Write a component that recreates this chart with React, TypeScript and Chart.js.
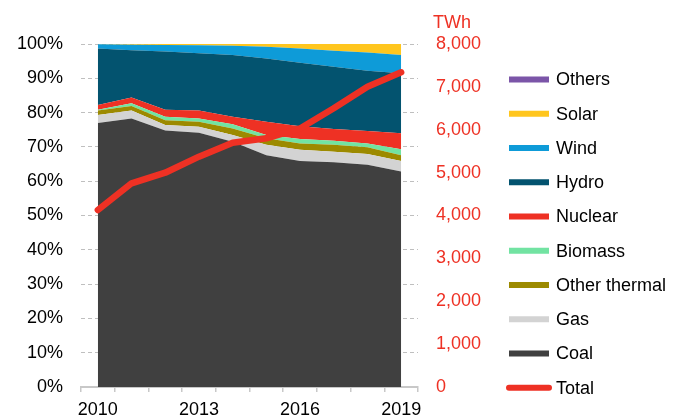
import React, { useEffect, useRef } from 'react';
import { Chart, registerables } from 'chart.js';

Chart.register(...registerables);

const years = ['2010', '2011', '2012', '2013', '2014', '2015', '2016', '2017', '2018', '2019'];
const shownYears = ['2010', '2013', '2016', '2019'];

// Shares of generation (%)
const coal = [77.0, 78.3, 74.8, 74.1, 71.5, 67.6, 65.9, 65.5, 64.8, 62.8];
const gas = [2.3, 2.3, 1.6, 1.8, 2.0, 3.0, 3.3, 3.1, 3.1, 3.1];
const otherThermal = [1.3, 1.3, 1.4, 1.4, 1.9, 1.9, 1.8, 2.0, 2.0, 1.7];
const biomass = [0.2, 0.8, 1.0, 1.0, 1.2, 1.0, 1.3, 1.2, 1.1, 1.7];
const nuclear = [1.4, 1.7, 2.0, 2.3, 2.2, 3.8, 3.7, 3.4, 3.6, 4.7];
const hydro = [16.5, 13.8, 17.0, 16.7, 18.0, 18.5, 18.5, 18.2, 17.6, 17.5];
const wind = [1.2, 1.6, 1.9, 2.3, 2.7, 3.4, 4.2, 4.6, 5.3, 5.3];
const solar = [0.1, 0.2, 0.3, 0.4, 0.5, 0.8, 1.3, 2.0, 2.5, 3.2];
const others = [0, 0, 0, 0, 0, 0, 0, 0, 0, 0];

// Total generation (TWh)
const total = [4128, 4751, 4998, 5372, 5698, 5800, 6030, 6500, 7004, 7340];

const unitLabel = 'TWh';
const RED = '#EE3124';
const FONT = '"Liberation Sans", Arial, sans-serif';

const areaSeries = [
  { label: 'Coal', data: coal, color: '#404040' },
  { label: 'Gas', data: gas, color: '#D3D3D3' },
  { label: 'Other thermal', data: otherThermal, color: '#9C8A00' },
  { label: 'Biomass', data: biomass, color: '#72E3A2' },
  { label: 'Nuclear', data: nuclear, color: RED },
  { label: 'Hydro', data: hydro, color: '#03536F' },
  { label: 'Wind', data: wind, color: '#0E9BD8' },
  { label: 'Solar', data: solar, color: '#FFC61E' },
  { label: 'Others', data: others, color: '#7B55A8' },
];

const legendPlugin = {
  id: 'customLegend',
  afterDraw(chart: any) {
    const ctx = chart.ctx;
    ctx.save();
    ctx.font = `18px ${FONT}`;
    ctx.textBaseline = 'middle';
    ctx.textAlign = 'left';
    ctx.fillStyle = RED;
    ctx.fillText(unitLabel, 433, 23);

    const items = [...areaSeries].reverse().map((s) => ({ label: s.label, color: s.color, line: false }));
    items.push({ label: 'Total', color: RED, line: true });
    const x0 = 509;
    const y0 = 79.5;
    const step = 34.25;
    items.forEach((it, i) => {
      const y = y0 + i * step;
      if (it.line) {
        ctx.strokeStyle = it.color;
        ctx.lineWidth = 6;
        ctx.lineCap = 'round';
        ctx.beginPath();
        ctx.moveTo(x0, y);
        ctx.lineTo(x0 + 40, y);
        ctx.stroke();
      } else {
        ctx.fillStyle = it.color;
        ctx.fillRect(x0, y - 3, 40, 6);
      }
      ctx.fillStyle = '#000';
      ctx.fillText(it.label, x0 + 47, y + 1);
    });
    ctx.restore();
  },
};

export default function App() {
  const ref = useRef<HTMLCanvasElement | null>(null);

  useEffect(() => {
    if (!ref.current) return;
    Chart.defaults.font.family = FONT;
    Chart.defaults.font.size = 18;
    Chart.defaults.color = '#000';

    const datasets: any[] = areaSeries.map((s, i) => ({
      type: 'line',
      label: s.label,
      data: s.data,
      yAxisID: 'y',
      backgroundColor: s.color,
      borderColor: s.color,
      borderWidth: 0,
      pointRadius: 0,
      pointHoverRadius: 0,
      fill: i === 0 ? 'origin' : '-1',
      tension: 0,
      order: 1,
    }));
    datasets.push({
      type: 'line',
      label: 'Total',
      data: total,
      yAxisID: 'y2',
      borderColor: RED,
      backgroundColor: RED,
      borderWidth: 6.5,
      borderCapStyle: 'round',
      borderJoinStyle: 'round',
      pointRadius: 0,
      pointHoverRadius: 0,
      fill: false,
      tension: 0,
      order: 0,
    });

    const chart = new Chart(ref.current, {
      type: 'line',
      data: { labels: years, datasets },
      plugins: [legendPlugin],
      options: {
        animation: false,
        responsive: false,
        maintainAspectRatio: false,
        layout: { padding: { top: 44, right: 173, bottom: 0, left: 0 } },
        plugins: {
          legend: { display: false },
          tooltip: { enabled: false },
        },
        scales: {
          x: {
            type: 'category',
            offset: true,
            afterFit: (s: any) => {
              s.height = 33;
            },
            grid: {
              offset: true,
              drawOnChartArea: false,
              drawTicks: true,
              tickLength: 5,
              color: '#C8C8C8',
              lineWidth: 1.5,
            },
            border: { display: true, color: '#C8C8C8', width: 2 },
            ticks: {
              autoSkip: false,
              maxRotation: 0,
              padding: 7,
              color: '#000',
              font: { size: 18 },
              callback: (_v: any, i: number) => (shownYears.includes(years[i]) ? years[i] : ''),
            },
          },
          y: {
            type: 'linear',
            position: 'left',
            stacked: true,
            min: 0,
            max: 100,
            afterFit: (s: any) => {
              s.width = 81;
            },
            grid: {
              color: '#BFBFBF',
              lineWidth: 1,
              drawTicks: false,
              borderDash: [4, 3],
            },
            border: { display: false, dash: [4, 3] },
            ticks: {
              stepSize: 10,
              padding: 18,
              color: '#000',
              font: { size: 18 },
              callback: (v: any) => `${v}%`,
            },
          },
          y2: {
            type: 'linear',
            position: 'right',
            stacked: false,
            min: 0,
            max: 8000,
            afterFit: (s: any) => {
              s.width = 100;
            },
            grid: { drawOnChartArea: false, drawTicks: false },
            border: { display: false },
            ticks: {
              stepSize: 1000,
              padding: 18,
              color: RED,
              font: { size: 18 },
              callback: (v: any) => Number(v).toLocaleString('en-US'),
            },
          },
        },
      } as any,
    });
    return () => chart.destroy();
  }, []);

  return (
    <div style={{ position: 'fixed', left: 0, top: 0, width: 691, height: 420, background: '#fff' }}>
      <canvas ref={ref} width={691} height={420} style={{ display: 'block' }} />
    </div>
  );
}
